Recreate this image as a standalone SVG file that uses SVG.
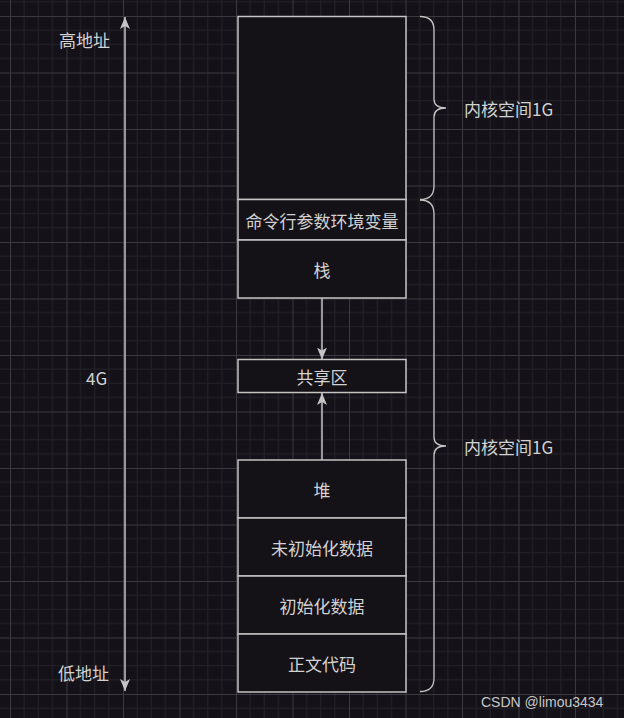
<svg xmlns="http://www.w3.org/2000/svg" width="624" height="718" viewBox="0 0 624 718">
<style>
.bg{fill:#141218}
.box{fill:#141117;stroke:#c4c4c4;stroke-width:1.5}
.lbl{font-family:"Noto Sans CJK SC","Liberation Sans",sans-serif;font-size:17px;fill:#d2d2d2;text-anchor:middle;dominant-baseline:central}
.side{font-family:"Noto Sans CJK SC","Liberation Sans",sans-serif;font-size:17px;fill:#d2d2d2;dominant-baseline:central}
.edge{fill:none;stroke:#c4c4c4;stroke-width:1.5}
.brace{fill:none;stroke:#c4c4c4;stroke-width:1.3}
.wm{font-family:"Liberation Sans",sans-serif;font-size:14px;fill:#c8c8c8;dominant-baseline:central}
</style>
<defs>
<pattern id="grid" patternUnits="userSpaceOnUse" x="10" y="16" width="56.5" height="56.5">
<path d="M14.125,0V56.5M28.25,0V56.5M42.375,0V56.5M0,14.125H56.5M0,28.25H56.5M0,42.375H56.5" stroke="#25232a" stroke-width="1" fill="none"/>
<path d="M0.5,0V56.5M0,0.5H56.5" stroke="#3c3a40" stroke-width="1" fill="none"/>
</pattern>
<marker id="arr" viewBox="0 0 12 10" refX="12" refY="5" markerWidth="12" markerHeight="10" markerUnits="userSpaceOnUse" orient="auto-start-reverse">
<path d="M0,0 L12,5 L0,10 L3,5 Z" fill="#c4c4c4"/>
</marker>
</defs>
<rect class="bg" x="0" y="0" width="624" height="718"/>
<rect x="0" y="0" width="624" height="718" fill="url(#grid)"/>

<g id="kernel"><rect class="box" x="238" y="16.5" width="168" height="183"/></g>
<g id="cmdenv"><rect class="box" x="238" y="199.5" width="168" height="40.5"/><text class="lbl" x="322" y="220">命令行参数环境变量</text></g>
<g id="stack"><rect class="box" x="238" y="240" width="168" height="58"/><text class="lbl" x="322" y="269">栈</text></g>
<g id="shared"><rect class="box" x="238" y="359.5" width="168" height="33"/><text class="lbl" x="322" y="376">共享区</text></g>
<g id="heap"><rect class="box" x="238" y="460" width="168" height="58"/><text class="lbl" x="322" y="489">堆</text></g>
<g id="bss"><rect class="box" x="238" y="518" width="168" height="58"/><text class="lbl" x="322" y="547">未初始化数据</text></g>
<g id="data"><rect class="box" x="238" y="576" width="168" height="58"/><text class="lbl" x="322" y="605">初始化数据</text></g>
<g id="text"><rect class="box" x="238" y="634" width="168" height="58"/><text class="lbl" x="322" y="663">正文代码</text></g>

<g id="labels">
<text class="side" x="59" y="39">高地址</text>
<text class="side" x="86" y="377">4G</text>
<text class="side" x="58" y="672">低地址</text>
<text class="side" x="464" y="108">内核空间1G</text>
<text class="side" x="464" y="446">内核空间1G</text>
</g>

<g id="connectors">
<path class="edge" d="M125,17 V691" marker-start="url(#arr)" marker-end="url(#arr)"/>
<path class="edge" d="M322,298 V359.5" marker-end="url(#arr)"/>
<path class="edge" d="M322,460 V393" marker-end="url(#arr)"/>
<path class="brace" d="M420,16.5 Q434,16.5 434,30 L434,99 Q434,108 446,108 Q434,108 434,117 L434,186 Q434,199.5 420,199.5"/>
<path class="brace" d="M420,200 Q434,200 434,214 L434,437 Q434,446 446,446 Q434,446 434,455 L434,678 Q434,691.5 420,691.5"/>
</g>

<text class="wm" x="481" y="702">CSDN @limou3434</text>
</svg>
